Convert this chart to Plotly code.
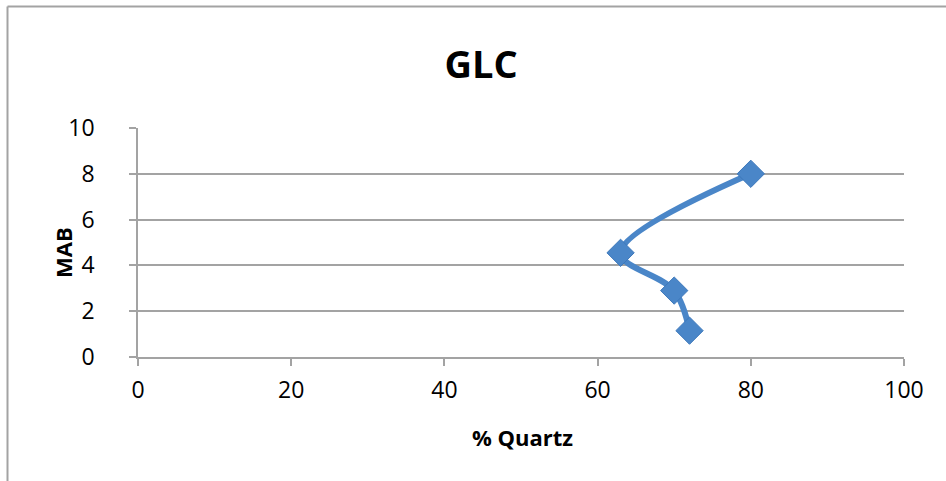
import plotly.graph_objects as go

# Quartz percentage against height above bed (MAB)
quartz_pct = [80, 63, 70, 72]
mab = [8.0, 4.55, 2.9, 1.15]

x_ticks = [0, 20, 40, 60, 80, 100]
y_ticks = [0, 2, 4, 6, 8, 10]

blue = "#4a86c8"
grey = "#a3a3a3"

fig = go.Figure()
fig.add_trace(go.Scatter(
    x=quartz_pct, y=mab,
    mode="lines+markers",
    line=dict(color=blue, width=6, shape="spline", smoothing=1),
    marker=dict(symbol="diamond", size=21, color=blue,
                line=dict(color="#3d78bb", width=1)),
    showlegend=False,
))

W, H = 946, 481
L, R, T, B = 138, 42, 128, 124
pw, ph = W - L - R, H - T - B

def px_to_paper_x(px):
    return (px - L) / pw

def px_to_paper_y(py):
    return (H - B - py) / ph

# outer chart frame (left and top edges visible)
fig.add_shape(type="line", xref="paper", yref="paper",
              x0=px_to_paper_x(7.5), x1=px_to_paper_x(7.5),
              y0=px_to_paper_y(6.5), y1=px_to_paper_y(490),
              line=dict(color=grey, width=2))
fig.add_shape(type="line", xref="paper", yref="paper",
              x0=px_to_paper_x(7.5), x1=px_to_paper_x(960),
              y0=px_to_paper_y(6.5), y1=px_to_paper_y(6.5),
              line=dict(color=grey, width=2))

# axis titles
fig.add_annotation(text="<b>MAB</b>", xref="paper", yref="paper",
                   x=px_to_paper_x(63), y=px_to_paper_y(253),
                   xanchor="center", yanchor="middle", textangle=-90,
                   showarrow=False, font=dict(size=22, family="Open Sans"))
fig.add_annotation(text="<b>% Quartz</b>", xref="paper", yref="paper",
                   x=px_to_paper_x(522), y=px_to_paper_y(437),
                   xanchor="center", yanchor="middle",
                   showarrow=False, font=dict(size=22, family="Open Sans"))

fig.update_layout(
    width=W, height=H,
    margin=dict(l=L, r=R, t=T, b=B),
    paper_bgcolor="white", plot_bgcolor="white",
    font=dict(family="Open Sans", color="black"),
    title=dict(text="<b>GLC</b>", x=481 / W, xanchor="center",
               y=1 - 65 / H, yanchor="middle",
               font=dict(size=38, family="Open Sans", color="black")),
    xaxis=dict(
        range=[0, 100], tickvals=x_ticks, showgrid=False, zeroline=False,
        showline=True, linecolor=grey, linewidth=1.5,
        ticks="outside", ticklen=7, tickcolor=grey, tickwidth=1.5,
        tickfont=dict(size=23, family="Open Sans"), ticklabelstandoff=5,
    ),
    yaxis=dict(
        range=[0, 10], tickvals=y_ticks, showgrid=True, gridcolor=grey,
        gridwidth=1.5, zeroline=False,
        showline=True, linecolor=grey, linewidth=1.5,
        ticks="outside", ticklen=7, tickcolor=grey, tickwidth=1.5,
        tickfont=dict(size=23, family="Open Sans"), ticklabelstandoff=30,
    ),
)

fig.write_html("out.html")
